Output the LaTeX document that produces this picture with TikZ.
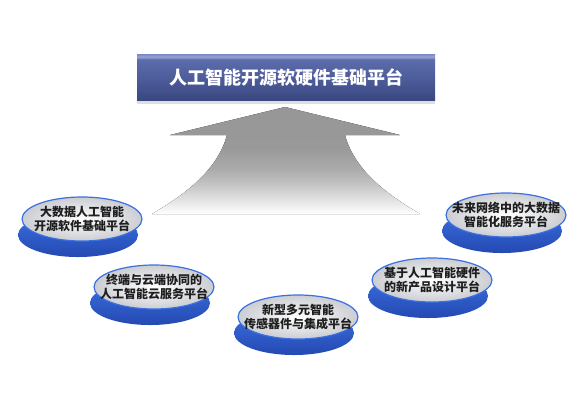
\documentclass[tikz,border=0pt]{standalone}
\usepackage{fontspec}
\setmainfont{Noto Sans CJK SC}
\usepackage{tikz}
\usetikzlibrary{shapes, shadows}
\usetikzlibrary{positioning}

\definecolor{rimlight}{HTML}{3B70E0}
\definecolor{rimdark}{HTML}{2449B2}
\definecolor{facegray}{HTML}{CBCDD2}
\definecolor{textdark}{HTML}{1E1E1E}

\pgfdeclareverticalshading{bannershade}{100bp}{color(0bp)=(rgb,255:red,58;green,71;blue,128); color(25bp)=(rgb,255:red,58;green,71;blue,128); color(50bp)=(rgb,255:red,78;green,93;blue,156); color(69bp)=(rgb,255:red,92;green,107;blue,170); color(72bp)=(rgb,255:red,150;green,163;blue,214); color(75bp)=(rgb,255:red,120;green,134;blue,196); color(100bp)=(rgb,255:red,120;green,134;blue,196)}
\pgfdeclareverticalshading{arrowfade}{100bp}{color(0bp)=(white); color(25bp)=(white); color(31bp)=(black!10); color(38bp)=(black!22); color(46bp)=(black!33); color(56bp)=(black!40); color(100bp)=(black!42)}

\begin{document}
\begin{tikzpicture}[x=1pt, y=-1pt]

\tikzset{
  % style for the title bar on top
  banner/.style={
    rectangle, minimum width=298pt, minimum height=46pt,
    shading=bannershade, text=white, font=\fontsize{18}{20}\selectfont\bfseries,
    drop shadow={shadow xshift=0pt, shadow yshift=-4pt, opacity=.25}
  },
  % style for the round platforms, the blue rim is drawn as a shadow
  platform/.style={
    ellipse, minimum width=120pt, minimum height=44pt,
    inner xsep=-20pt, inner ysep=-10pt, align=center,
    inner color=white, outer color=facegray, draw=rimlight, line width=1.2pt,
    text=textdark, font=\fontsize{12}{14.5}\selectfont\bfseries,
    general shadow={shadow xshift=-4pt, shadow yshift=-16pt, draw=none,
      top color=rimlight, bottom color=rimdark}
  },
}

\useasboundingbox (0,0) rectangle (585,400);

% big arrow going up to the title
\fill [shading=arrowfade] (285,107) -- (400,135) -- (345,135)
    .. controls (355,172) and (390,196) .. (420,214) -- (152,214)
    .. controls (182,196) and (217,172) .. (227,135) -- (170,135) -- cycle;

\node [banner] (title) at (286,77) {人工智能开源软硬件基础平台};

\node [platform] (bigdata) at (82,219) {大数据人工智能\\开源软件基础平台};
\node [platform] (cloud) at (154,287) {终端与云端协同的\\人工智能云服务平台};
\node [platform] (sensor) at (298,317) {新型多元智能\\传感器件与集成平台};
\node [platform] (hardware) at (432,280) {基于人工智能硬件\\的新产品设计平台};
\node [platform] (network) at (506,215) {未来网络中的大数据\\智能化服务平台};
%    older layout had the platforms on a straight line

\end{tikzpicture}
\end{document}
